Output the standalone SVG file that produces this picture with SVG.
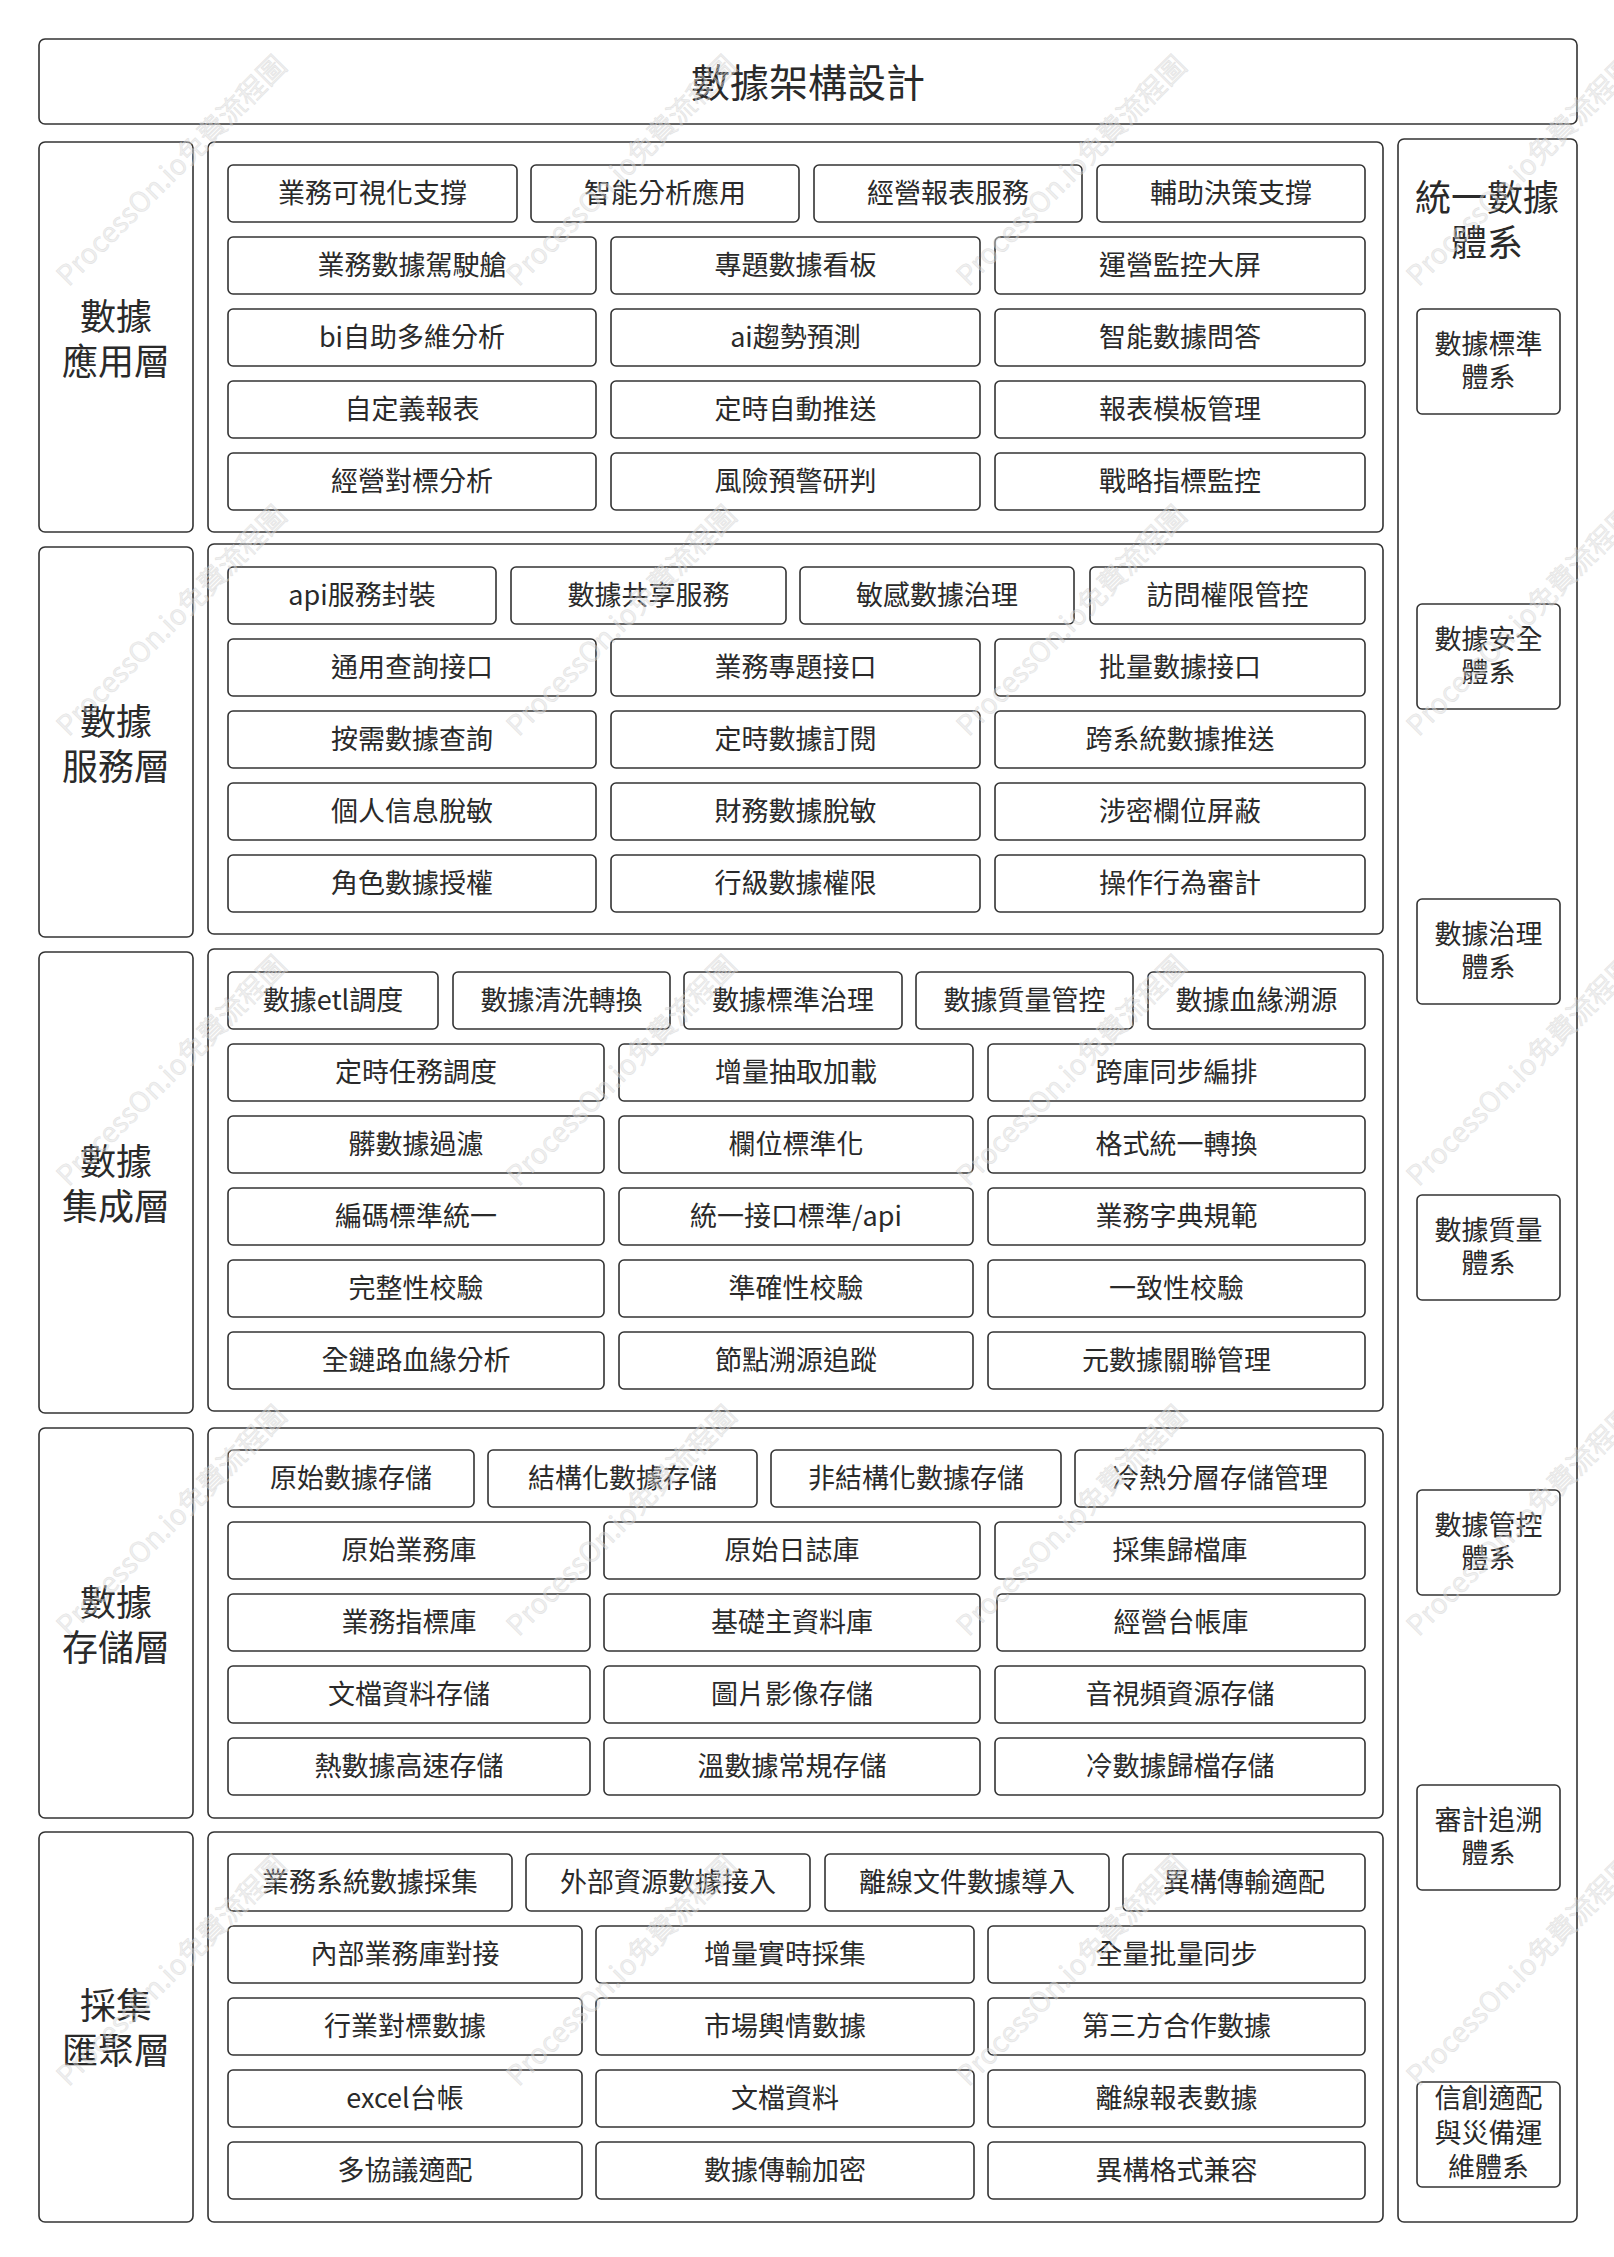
<svg xmlns="http://www.w3.org/2000/svg" width="1614" height="2257" viewBox="0 0 1614 2257">
<style>
  .frame{fill:#ffffff;stroke:#333333;stroke-width:1.6}
  .bx{fill:#ffffff;stroke:#333333;stroke-width:1.6}
  text{font-family:"Noto Sans CJK TC","Noto Sans CJK SC","Noto Sans",sans-serif;fill:#2a2a2a;text-anchor:middle;dominant-baseline:central}
  .t{font-size:27px}
  .lt{font-size:36px}
  .title{font-size:39px}
  .wm{font-size:28px;fill:#dcdcdc;fill-opacity:0.45;stroke:#cccccc;stroke-width:0.5;stroke-opacity:0.5}
</style>
<rect width="1614" height="2257" fill="#ffffff"/>

<g id="title">
  <rect class="frame" x="39" y="39" width="1538" height="85" rx="6"/>
  <text class="title" x="808" y="79.5">數據架構設計</text>
</g>

<g id="governance-column">
  <rect class="frame" x="1398" y="139" width="179" height="2083" rx="6"/>
  <text class="lt" x="1487" y="194.5">統一數據</text>
  <text class="lt" x="1487" y="239.5">體系</text>
</g>
<g id="std-system"><rect class="bx" x="1417" y="309" width="143" height="105" rx="5"/><text class="t" x="1488.5" y="342.5">數據標準</text><text class="t" x="1488.5" y="375.5">體系</text></g>
<g id="sec-system"><rect class="bx" x="1417" y="604" width="143" height="105" rx="5"/><text class="t" x="1488.5" y="637.5">數據安全</text><text class="t" x="1488.5" y="670.5">體系</text></g>
<g id="gov-system"><rect class="bx" x="1417" y="899" width="143" height="105" rx="5"/><text class="t" x="1488.5" y="932.5">數據治理</text><text class="t" x="1488.5" y="965.5">體系</text></g>
<g id="qa-system"><rect class="bx" x="1417" y="1195" width="143" height="105" rx="5"/><text class="t" x="1488.5" y="1228.5">數據質量</text><text class="t" x="1488.5" y="1261.5">體系</text></g>
<g id="ctrl-system"><rect class="bx" x="1417" y="1490" width="143" height="105" rx="5"/><text class="t" x="1488.5" y="1523.5">數據管控</text><text class="t" x="1488.5" y="1556.5">體系</text></g>
<g id="audit-system"><rect class="bx" x="1417" y="1785" width="143" height="105" rx="5"/><text class="t" x="1488.5" y="1818.5">審計追溯</text><text class="t" x="1488.5" y="1851.5">體系</text></g>
<g id="xc-system"><rect class="bx" x="1417" y="2082" width="143" height="105" rx="5"/><text class="t" x="1488.5" y="2096.5">信創適配</text><text class="t" x="1488.5" y="2131">與災備運</text><text class="t" x="1488.5" y="2165.5">維體系</text></g>

<!-- Layer 1: application -->
<g id="layer-app-label"><rect class="frame" x="39" y="142" width="154" height="390" rx="6"/><text class="lt" x="116" y="313.5">數據</text><text class="lt" x="116" y="358.5">應用層</text></g>
<g id="layer-app">
  <rect class="frame" x="208" y="142" width="1175" height="390" rx="6"/>
  <g id="a1"><rect class="bx" x="228" y="165" width="289" height="57" rx="5"/><text class="t" x="372.5" y="191">業務可視化支撐</text></g>
  <g id="a2"><rect class="bx" x="531" y="165" width="268" height="57" rx="5"/><text class="t" x="665" y="191">智能分析應用</text></g>
  <g id="a3"><rect class="bx" x="814" y="165" width="268" height="57" rx="5"/><text class="t" x="948" y="191">經營報表服務</text></g>
  <g id="a4"><rect class="bx" x="1097" y="165" width="268" height="57" rx="5"/><text class="t" x="1231" y="191">輔助決策支撐</text></g>
  <g id="a5"><rect class="bx" x="228" y="237" width="368" height="57" rx="5"/><text class="t" x="412" y="263">業務數據駕駛艙</text></g>
  <g id="a6"><rect class="bx" x="611" y="237" width="369" height="57" rx="5"/><text class="t" x="795.5" y="263">專題數據看板</text></g>
  <g id="a7"><rect class="bx" x="995" y="237" width="370" height="57" rx="5"/><text class="t" x="1180" y="263">運營監控大屏</text></g>
  <g id="a8"><rect class="bx" x="228" y="309" width="368" height="57" rx="5"/><text class="t" x="412" y="335">bi自助多維分析</text></g>
  <g id="a9"><rect class="bx" x="611" y="309" width="369" height="57" rx="5"/><text class="t" x="795.5" y="335">ai趨勢預測</text></g>
  <g id="a10"><rect class="bx" x="995" y="309" width="370" height="57" rx="5"/><text class="t" x="1180" y="335">智能數據問答</text></g>
  <g id="a11"><rect class="bx" x="228" y="381" width="368" height="57" rx="5"/><text class="t" x="412" y="407">自定義報表</text></g>
  <g id="a12"><rect class="bx" x="611" y="381" width="369" height="57" rx="5"/><text class="t" x="795.5" y="407">定時自動推送</text></g>
  <g id="a13"><rect class="bx" x="995" y="381" width="370" height="57" rx="5"/><text class="t" x="1180" y="407">報表模板管理</text></g>
  <g id="a14"><rect class="bx" x="228" y="453" width="368" height="57" rx="5"/><text class="t" x="412" y="479">經營對標分析</text></g>
  <g id="a15"><rect class="bx" x="611" y="453" width="369" height="57" rx="5"/><text class="t" x="795.5" y="479">風險預警研判</text></g>
  <g id="a16"><rect class="bx" x="995" y="453" width="370" height="57" rx="5"/><text class="t" x="1180" y="479">戰略指標監控</text></g>
</g>

<!-- Layer 2: service -->
<g id="layer-svc-label"><rect class="frame" x="39" y="547" width="154" height="390" rx="6"/><text class="lt" x="116" y="718.5">數據</text><text class="lt" x="116" y="763.5">服務層</text></g>
<g id="layer-svc">
  <rect class="frame" x="208" y="544" width="1175" height="390" rx="6"/>
  <g id="s1"><rect class="bx" x="228" y="567" width="268" height="57" rx="5"/><text class="t" x="362" y="593">api服務封裝</text></g>
  <g id="s2"><rect class="bx" x="511" y="567" width="275" height="57" rx="5"/><text class="t" x="648.5" y="593">數據共享服務</text></g>
  <g id="s3"><rect class="bx" x="800" y="567" width="274" height="57" rx="5"/><text class="t" x="937" y="593">敏感數據治理</text></g>
  <g id="s4"><rect class="bx" x="1090" y="567" width="275" height="57" rx="5"/><text class="t" x="1227.5" y="593">訪問權限管控</text></g>
  <g id="s5"><rect class="bx" x="228" y="639" width="368" height="57" rx="5"/><text class="t" x="412" y="665">通用查詢接口</text></g>
  <g id="s6"><rect class="bx" x="611" y="639" width="369" height="57" rx="5"/><text class="t" x="795.5" y="665">業務專題接口</text></g>
  <g id="s7"><rect class="bx" x="995" y="639" width="370" height="57" rx="5"/><text class="t" x="1180" y="665">批量數據接口</text></g>
  <g id="s8"><rect class="bx" x="228" y="711" width="368" height="57" rx="5"/><text class="t" x="412" y="737">按需數據查詢</text></g>
  <g id="s9"><rect class="bx" x="611" y="711" width="369" height="57" rx="5"/><text class="t" x="795.5" y="737">定時數據訂閱</text></g>
  <g id="s10"><rect class="bx" x="995" y="711" width="370" height="57" rx="5"/><text class="t" x="1180" y="737">跨系統數據推送</text></g>
  <g id="s11"><rect class="bx" x="228" y="783" width="368" height="57" rx="5"/><text class="t" x="412" y="809">個人信息脫敏</text></g>
  <g id="s12"><rect class="bx" x="611" y="783" width="369" height="57" rx="5"/><text class="t" x="795.5" y="809">財務數據脫敏</text></g>
  <g id="s13"><rect class="bx" x="995" y="783" width="370" height="57" rx="5"/><text class="t" x="1180" y="809">涉密欄位屏蔽</text></g>
  <g id="s14"><rect class="bx" x="228" y="855" width="368" height="57" rx="5"/><text class="t" x="412" y="881">角色數據授權</text></g>
  <g id="s15"><rect class="bx" x="611" y="855" width="369" height="57" rx="5"/><text class="t" x="795.5" y="881">行級數據權限</text></g>
  <g id="s16"><rect class="bx" x="995" y="855" width="370" height="57" rx="5"/><text class="t" x="1180" y="881">操作行為審計</text></g>
</g>

<!-- Layer 3: integration -->
<g id="layer-int-label"><rect class="frame" x="39" y="952" width="154" height="461" rx="6"/><text class="lt" x="116" y="1158.5">數據</text><text class="lt" x="116" y="1203.5">集成層</text></g>
<g id="layer-int">
  <rect class="frame" x="208" y="949" width="1175" height="462" rx="6"/>
  <g id="i1"><rect class="bx" x="228" y="972" width="210" height="57" rx="5"/><text class="t" x="333" y="998">數據etl調度</text></g>
  <g id="i2"><rect class="bx" x="453" y="972" width="217" height="57" rx="5"/><text class="t" x="561.5" y="998">數據清洗轉換</text></g>
  <g id="i3"><rect class="bx" x="684" y="972" width="218" height="57" rx="5"/><text class="t" x="793" y="998">數據標準治理</text></g>
  <g id="i4"><rect class="bx" x="916" y="972" width="217" height="57" rx="5"/><text class="t" x="1024.5" y="998">數據質量管控</text></g>
  <g id="i5"><rect class="bx" x="1148" y="972" width="217" height="57" rx="5"/><text class="t" x="1256.5" y="998">數據血緣溯源</text></g>
  <g id="i6"><rect class="bx" x="228" y="1044" width="376" height="57" rx="5"/><text class="t" x="416" y="1070">定時任務調度</text></g>
  <g id="i7"><rect class="bx" x="619" y="1044" width="354" height="57" rx="5"/><text class="t" x="796" y="1070">增量抽取加載</text></g>
  <g id="i8"><rect class="bx" x="988" y="1044" width="377" height="57" rx="5"/><text class="t" x="1176.5" y="1070">跨庫同步編排</text></g>
  <g id="i9"><rect class="bx" x="228" y="1116" width="376" height="57" rx="5"/><text class="t" x="416" y="1142">髒數據過濾</text></g>
  <g id="i10"><rect class="bx" x="619" y="1116" width="354" height="57" rx="5"/><text class="t" x="796" y="1142">欄位標準化</text></g>
  <g id="i11"><rect class="bx" x="988" y="1116" width="377" height="57" rx="5"/><text class="t" x="1176.5" y="1142">格式統一轉換</text></g>
  <g id="i12"><rect class="bx" x="228" y="1188" width="376" height="57" rx="5"/><text class="t" x="416" y="1214">編碼標準統一</text></g>
  <g id="i13"><rect class="bx" x="619" y="1188" width="354" height="57" rx="5"/><text class="t" x="796" y="1214">統一接口標準/api</text></g>
  <g id="i14"><rect class="bx" x="988" y="1188" width="377" height="57" rx="5"/><text class="t" x="1176.5" y="1214">業務字典規範</text></g>
  <g id="i15"><rect class="bx" x="228" y="1260" width="376" height="57" rx="5"/><text class="t" x="416" y="1286">完整性校驗</text></g>
  <g id="i16"><rect class="bx" x="619" y="1260" width="354" height="57" rx="5"/><text class="t" x="796" y="1286">準確性校驗</text></g>
  <g id="i17"><rect class="bx" x="988" y="1260" width="377" height="57" rx="5"/><text class="t" x="1176.5" y="1286">一致性校驗</text></g>
  <g id="i18"><rect class="bx" x="228" y="1332" width="376" height="57" rx="5"/><text class="t" x="416" y="1358">全鏈路血緣分析</text></g>
  <g id="i19"><rect class="bx" x="619" y="1332" width="354" height="57" rx="5"/><text class="t" x="796" y="1358">節點溯源追蹤</text></g>
  <g id="i20"><rect class="bx" x="988" y="1332" width="377" height="57" rx="5"/><text class="t" x="1176.5" y="1358">元數據關聯管理</text></g>
</g>

<!-- Layer 4: storage -->
<g id="layer-sto-label"><rect class="frame" x="39" y="1428" width="154" height="390" rx="6"/><text class="lt" x="116" y="1599.5">數據</text><text class="lt" x="116" y="1644.5">存儲層</text></g>
<g id="layer-sto">
  <rect class="frame" x="208" y="1428" width="1175" height="390" rx="6"/>
  <g id="d1"><rect class="bx" x="228" y="1450" width="246" height="57" rx="5"/><text class="t" x="351" y="1476">原始數據存儲</text></g>
  <g id="d2"><rect class="bx" x="488" y="1450" width="269" height="57" rx="5"/><text class="t" x="622.5" y="1476">結構化數據存儲</text></g>
  <g id="d3"><rect class="bx" x="771" y="1450" width="290" height="57" rx="5"/><text class="t" x="916" y="1476">非結構化數據存儲</text></g>
  <g id="d4"><rect class="bx" x="1075" y="1450" width="290" height="57" rx="5"/><text class="t" x="1220" y="1476">冷熱分層存儲管理</text></g>
  <g id="d5"><rect class="bx" x="228" y="1522" width="362" height="57" rx="5"/><text class="t" x="409" y="1548">原始業務庫</text></g>
  <g id="d6"><rect class="bx" x="604" y="1522" width="376" height="57" rx="5"/><text class="t" x="792" y="1548">原始日誌庫</text></g>
  <g id="d7"><rect class="bx" x="995" y="1522" width="370" height="57" rx="5"/><text class="t" x="1180" y="1548">採集歸檔庫</text></g>
  <g id="d8"><rect class="bx" x="228" y="1594" width="362" height="57" rx="5"/><text class="t" x="409" y="1620">業務指標庫</text></g>
  <g id="d9"><rect class="bx" x="604" y="1594" width="376" height="57" rx="5"/><text class="t" x="792" y="1620">基礎主資料庫</text></g>
  <g id="d10"><rect class="bx" x="997" y="1594" width="368" height="57" rx="5"/><text class="t" x="1181" y="1620">經營台帳庫</text></g>
  <g id="d11"><rect class="bx" x="228" y="1666" width="362" height="57" rx="5"/><text class="t" x="409" y="1692">文檔資料存儲</text></g>
  <g id="d12"><rect class="bx" x="604" y="1666" width="376" height="57" rx="5"/><text class="t" x="792" y="1692">圖片影像存儲</text></g>
  <g id="d13"><rect class="bx" x="995" y="1666" width="370" height="57" rx="5"/><text class="t" x="1180" y="1692">音視頻資源存儲</text></g>
  <g id="d14"><rect class="bx" x="228" y="1738" width="362" height="57" rx="5"/><text class="t" x="409" y="1764">熱數據高速存儲</text></g>
  <g id="d15"><rect class="bx" x="604" y="1738" width="376" height="57" rx="5"/><text class="t" x="792" y="1764">溫數據常規存儲</text></g>
  <g id="d16"><rect class="bx" x="995" y="1738" width="370" height="57" rx="5"/><text class="t" x="1180" y="1764">冷數據歸檔存儲</text></g>
</g>

<!-- Layer 5: collection -->
<g id="layer-col-label"><rect class="frame" x="39" y="1832" width="154" height="390" rx="6"/><text class="lt" x="116" y="2003">採集</text><text class="lt" x="116" y="2048">匯聚層</text></g>
<g id="layer-col">
  <rect class="frame" x="208" y="1832" width="1175" height="390" rx="6"/>
  <g id="c1"><rect class="bx" x="228" y="1854" width="284" height="57" rx="5"/><text class="t" x="370" y="1880">業務系統數據採集</text></g>
  <g id="c2"><rect class="bx" x="526" y="1854" width="284" height="57" rx="5"/><text class="t" x="668" y="1880">外部資源數據接入</text></g>
  <g id="c3"><rect class="bx" x="825" y="1854" width="284" height="57" rx="5"/><text class="t" x="967" y="1880">離線文件數據導入</text></g>
  <g id="c4"><rect class="bx" x="1123" y="1854" width="242" height="57" rx="5"/><text class="t" x="1244" y="1880">異構傳輸適配</text></g>
  <g id="c5"><rect class="bx" x="228" y="1926" width="354" height="57" rx="5"/><text class="t" x="405" y="1952">內部業務庫對接</text></g>
  <g id="c6"><rect class="bx" x="596" y="1926" width="378" height="57" rx="5"/><text class="t" x="785" y="1952">增量實時採集</text></g>
  <g id="c7"><rect class="bx" x="988" y="1926" width="377" height="57" rx="5"/><text class="t" x="1176.5" y="1952">全量批量同步</text></g>
  <g id="c8"><rect class="bx" x="228" y="1998" width="354" height="57" rx="5"/><text class="t" x="405" y="2024">行業對標數據</text></g>
  <g id="c9"><rect class="bx" x="596" y="1998" width="378" height="57" rx="5"/><text class="t" x="785" y="2024">市場輿情數據</text></g>
  <g id="c10"><rect class="bx" x="988" y="1998" width="377" height="57" rx="5"/><text class="t" x="1176.5" y="2024">第三方合作數據</text></g>
  <g id="c11"><rect class="bx" x="228" y="2070" width="354" height="57" rx="5"/><text class="t" x="405" y="2096">excel台帳</text></g>
  <g id="c12"><rect class="bx" x="596" y="2070" width="378" height="57" rx="5"/><text class="t" x="785" y="2096">文檔資料</text></g>
  <g id="c13"><rect class="bx" x="988" y="2070" width="377" height="57" rx="5"/><text class="t" x="1176.5" y="2096">離線報表數據</text></g>
  <g id="c14"><rect class="bx" x="228" y="2142" width="354" height="57" rx="5"/><text class="t" x="405" y="2168">多協議適配</text></g>
  <g id="c15"><rect class="bx" x="596" y="2142" width="378" height="57" rx="5"/><text class="t" x="785" y="2168">數據傳輸加密</text></g>
  <g id="c16"><rect class="bx" x="988" y="2142" width="377" height="57" rx="5"/><text class="t" x="1176.5" y="2168">異構格式兼容</text></g>
</g>

<g id="connectors"></g>

<g id="watermarks">
  <text class="wm" transform="translate(170,169) rotate(-45)">ProcessOn.io免費流程圖</text>
  <text class="wm" transform="translate(620,169) rotate(-45)">ProcessOn.io免費流程圖</text>
  <text class="wm" transform="translate(1070,169) rotate(-45)">ProcessOn.io免費流程圖</text>
  <text class="wm" transform="translate(1520,169) rotate(-45)">ProcessOn.io免費流程圖</text>
  <text class="wm" transform="translate(170,619) rotate(-45)">ProcessOn.io免費流程圖</text>
  <text class="wm" transform="translate(620,619) rotate(-45)">ProcessOn.io免費流程圖</text>
  <text class="wm" transform="translate(1070,619) rotate(-45)">ProcessOn.io免費流程圖</text>
  <text class="wm" transform="translate(1520,619) rotate(-45)">ProcessOn.io免費流程圖</text>
  <text class="wm" transform="translate(170,1069) rotate(-45)">ProcessOn.io免費流程圖</text>
  <text class="wm" transform="translate(620,1069) rotate(-45)">ProcessOn.io免費流程圖</text>
  <text class="wm" transform="translate(1070,1069) rotate(-45)">ProcessOn.io免費流程圖</text>
  <text class="wm" transform="translate(1520,1069) rotate(-45)">ProcessOn.io免費流程圖</text>
  <text class="wm" transform="translate(170,1519) rotate(-45)">ProcessOn.io免費流程圖</text>
  <text class="wm" transform="translate(620,1519) rotate(-45)">ProcessOn.io免費流程圖</text>
  <text class="wm" transform="translate(1070,1519) rotate(-45)">ProcessOn.io免費流程圖</text>
  <text class="wm" transform="translate(1520,1519) rotate(-45)">ProcessOn.io免費流程圖</text>
  <text class="wm" transform="translate(170,1969) rotate(-45)">ProcessOn.io免費流程圖</text>
  <text class="wm" transform="translate(620,1969) rotate(-45)">ProcessOn.io免費流程圖</text>
  <text class="wm" transform="translate(1070,1969) rotate(-45)">ProcessOn.io免費流程圖</text>
  <text class="wm" transform="translate(1520,1969) rotate(-45)">ProcessOn.io免費流程圖</text>
</g>
</svg>
